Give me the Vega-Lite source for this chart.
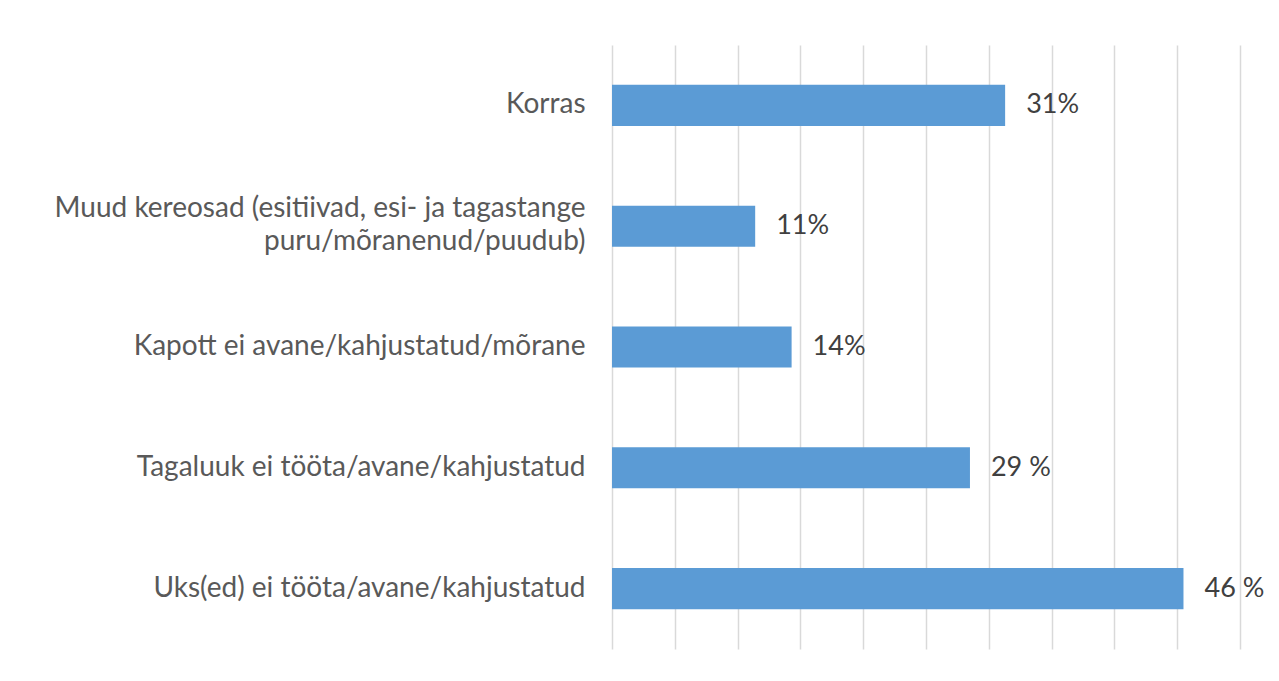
{
  "$schema": "https://vega.github.io/schema/vega-lite/v6.json",
  "autosize": {"type": "none"},
  "width": 628,
  "height": 604,
  "padding": {"left": 612, "top": 45, "right": 39, "bottom": 32},
  "background": "white",
  "config": {
    "view": {"stroke": null},
    "font": "Lato",
    "text": {"font": "Lato"}
  },
  "data": {
    "values": [
      {"kategooria": "Korras", "protsent": 31.3, "silt": "31%"},
      {"kategooria": "Muud kereosad (esitiivad, esi- ja tagastange puru/mõranenud/puudub)", "protsent": 11.4, "silt": "11%"},
      {"kategooria": "Kapott ei avane/kahjustatud/mõrane", "protsent": 14.3, "silt": "14%"},
      {"kategooria": "Tagaluuk ei tööta/avane/kahjustatud", "protsent": 28.5, "silt": "29 %"},
      {"kategooria": "Uks(ed) ei tööta/avane/kahjustatud", "protsent": 45.5, "silt": "46 %"}
    ]
  },
  "encoding": {
    "y": {
      "field": "kategooria",
      "type": "nominal",
      "sort": null,
      "scale": {"paddingInner": 0.66, "paddingOuter": 0.33},
      "axis": {
        "title": null,
        "domain": false,
        "ticks": false,
        "labelPadding": 27,
        "labelFontSize": 28,
        "labelColor": "#595959",
        "labelFont": "Lato",
        "labelLimit": 700,
        "labelLineHeight": 33,
        "labelOffset": {"condition": {"test": "indexof(datum.value, 'Muud') == 0", "value": -17}, "value": 0},
        "labelExpr": "indexof(datum.label, 'Muud') == 0 ? ['Muud kereosad (esitiivad, esi- ja tagastange', 'puru/mõranenud/puudub)'] : datum.label"
      }
    }
  },
  "layer": [
    {
      "mark": {"type": "bar", "color": "#5B9BD5"},
      "encoding": {
        "x": {
          "field": "protsent",
          "type": "quantitative",
          "scale": {"domain": [0, 50], "nice": false},
          "axis": {
            "title": null,
            "labels": false,
            "ticks": false,
            "domain": false,
            "grid": true,
            "gridColor": "#D9D9D9",
            "gridWidth": 1.5,
            "values": [0, 5, 10, 15, 20, 25, 30, 35, 40, 45, 50]
          }
        }
      }
    },
    {
      "mark": {"type": "text", "align": "left", "baseline": "middle", "dx": 21, "fontSize": 27, "color": "#404040", "font": "Lato"},
      "encoding": {
        "x": {"field": "protsent", "type": "quantitative"},
        "text": {"field": "silt", "type": "nominal"}
      }
    }
  ]
}
